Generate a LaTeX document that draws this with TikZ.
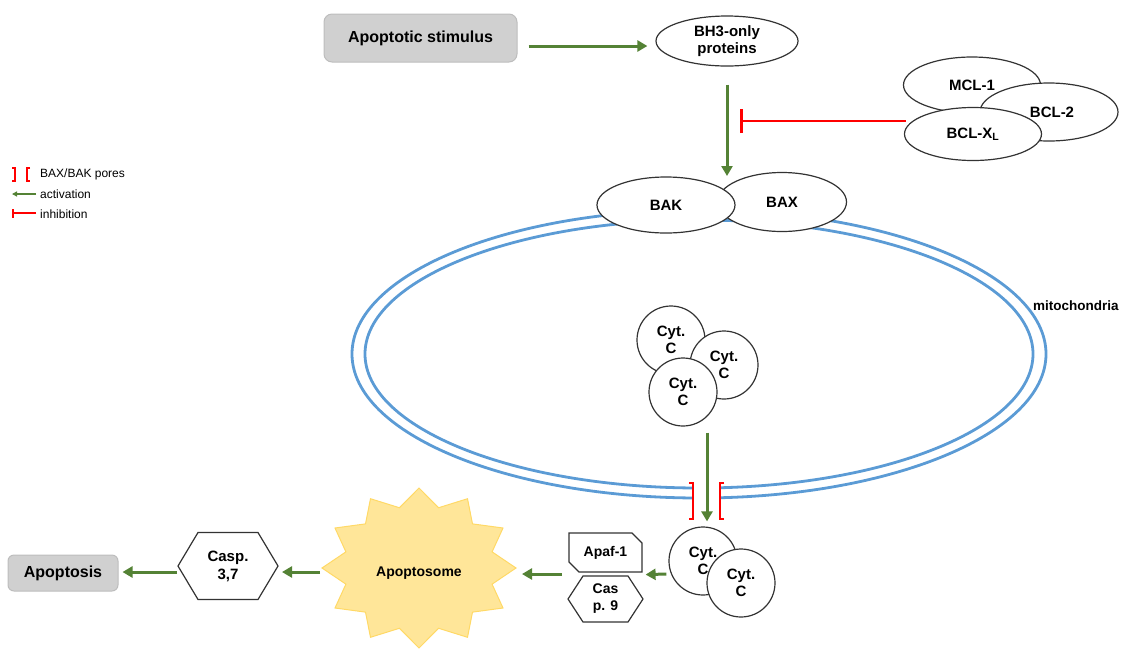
\documentclass[tikz,border=0pt]{standalone}
\usepackage{fontspec}
\setmainfont{Liberation Sans}
\usetikzlibrary{shapes.geometric,shapes.misc,arrows.meta,calc}
\definecolor{actgreen}{HTML}{548235}
\definecolor{mitoblue}{HTML}{5B9BD5}
\definecolor{boxgray}{HTML}{D0D0D0}
\definecolor{boxline}{HTML}{BDBDBD}
\definecolor{starfill}{HTML}{FFE699}
\definecolor{starline}{HTML}{FFD966}
\definecolor{edgec}{HTML}{333333}
\begin{document}
\begin{tikzpicture}[x=1pt,y=-1pt,
  lbl/.style={font=\bfseries\fontsize{15}{17}\selectfont, align=center, text=black, inner sep=0pt},
  gbox/.style={lbl, draw=boxline, fill=boxgray, rounded corners=8pt, line width=1pt, font=\bfseries\fontsize{16}{19}\selectfont},
  oval/.style={lbl, ellipse, draw=edgec, fill=white, line width=1.2pt},
  cyt/.style={lbl, circle, draw=edgec, fill=white, line width=1.2pt, minimum size=68pt},
  act/.style={draw=actgreen, line width=3pt, -{Triangle[length=10pt,width=11pt]}},
  inh/.style={draw=red, line width=2.6pt, -{Bar[width=24pt]}},
  pore/.style={draw=red, line width=2.2pt},
  mito/.style={draw=mitoblue, line width=2.8pt},
  poly/.style={draw=edgec, fill=white, line width=1.2pt},
  lgtext/.style={anchor=west, font=\fontsize{12}{14}\selectfont, inner sep=0pt}]
\useasboundingbox (0,0) rectangle (1128,649);

% legend
\draw[pore, line width=1.5pt] (12,168) -- (15,168) -- (15,181) -- (12,181);
\draw[pore, line width=1.5pt] (30,168) -- (27,168) -- (27,181) -- (30,181);
\node[lgtext] (lgpore) at (40,174) {BAX/BAK pores};
\draw[actgreen, line width=1.5pt, -{Triangle[length=5pt,width=5pt]}] (36,194) -- (12,194);
\node[lgtext] (lgact) at (40,194) {activation};
\draw[red, line width=1.5pt, -{Bar[width=9pt]}] (36,213) -- (12,213);
\node[lgtext] (lginh) at (40,214) {inhibition};

% mitochondria
\draw[mito] (699,354) ellipse [x radius=347, y radius=144];
\draw[mito] (699,354) ellipse [x radius=334, y radius=134];
\fill[white] (694,476) rectangle (719,512);
\draw[pore] (689,483) -- (693,483) -- (693,519) -- (689,519);
\draw[pore] (724,483) -- (720,483) -- (720,519) -- (724,519);
\node[lbl, font=\bfseries\fontsize{13.5}{16}\selectfont, anchor=west] (mitolbl) at (1033,306) {mitochondria};

% top
\node[gbox, minimum width=193, minimum height=48] (stim) at (420.5,38) {Apoptotic stimulus};
\node[oval, minimum width=142, minimum height=50] (bh3) at (727,41) {BH3-only\\proteins};

\node[oval, minimum width=137, minimum height=56] (mcl) at (972,85) {MCL-1};
\node[oval, minimum width=138, minimum height=58] (bcl2) at (1049,112) {\hspace*{6pt}BCL-2};
\node[oval, minimum width=137, minimum height=53] (bclxl) at (973,134) {BCL-X\textsubscript{L}};

\node[oval, minimum width=129, minimum height=59] (bax) at (782,202) {BAX};
\node[oval, minimum width=138, minimum height=56] (bak) at (666,205) {BAK};

\coordinate (bakbax) at (727,176);
\coordinate (inhend) at (740,121);
\draw[act] ($(stim.east)+(11,8)$) -- ($(bh3.west)+(-8,5)$);
\draw[act] ($(bh3.south)+(0,18)$) -- (bakbax);
\draw[inh] ($(bclxl.west)+(2,-13)$) -- (inhend);

% cyt c inside
\node[cyt] (c1) at (671,340) {Cyt.\\C};
\node[cyt] (c2) at (724,365) {Cyt.\\C};
\node[cyt] (c3) at (683,392) {Cyt.\\C};

% cyt c released
\node[cyt] (cA) at (703,561) {Cyt.\\C};
\node[cyt] (cB) at (741,583) {Cyt.\\C};
\draw[act] ($(c3.south)+(24,6)$) -- ($(cA.north)+(4,-5)$);

% Apaf-1 and Casp 9
\node[lbl, chamfered rectangle, chamfered rectangle corners={north east,south west},
  chamfered rectangle xsep=5pt, chamfered rectangle ysep=5pt, draw=edgec, fill=white,
  line width=1.2pt, minimum width=73, minimum height=39, font=\bfseries\fontsize{14}{16}\selectfont] (apaf) at (605.5,552.5) {Apaf-1};
\coordinate (c9) at (605.5,599);
\draw[poly] ($(c9)+(-37.5,0)$) -- ($(c9)+(-22.5,-23)$) -- ($(c9)+(22.5,-23)$) -- ($(c9)+(37.5,0)$) -- ($(c9)+(22.5,23)$) -- ($(c9)+(-22.5,23)$) -- cycle;
\node[lbl, font=\bfseries\fontsize{14}{17}\selectfont] (casp9) at (c9) {Cas\\p. 9};
\draw[act] ($(cA.west)+(-2,13)$) -- ($(apaf.south east)+(3,2)$);

% apoptosome
\coordinate (starc) at (419,568);
\filldraw[fill=starfill, draw=starline, line width=1pt]
  plot[samples at={0,...,23}, variable=\i]
  ({419+97*(1-0.22*mod(\i,2))*cos(90+15*\i)}, {568-80*(1-0.22*mod(\i,2))*sin(90+15*\i)}) -- cycle;
\node[lbl, font=\bfseries\fontsize{14}{16}\selectfont] (apo) at (419,573) {Apoptosome};
\coordinate (apafin) at (562,574);
\draw[act] (apafin) -- ($(starc)+(103,6)$);

% casp 3,7
\coordinate (c37) at (228,566);
\draw[poly] ($(c37)+(-50,0)$) -- ($(c37)+(-30,-33.5)$) -- ($(c37)+(30,-33.5)$) -- ($(c37)+(50,0)$) -- ($(c37)+(30,33.5)$) -- ($(c37)+(-30,33.5)$) -- cycle;
\node[lbl, font=\bfseries\fontsize{15}{18}\selectfont] (casp37) at (c37) {Casp.\\3,7};
\draw[act] ($(starc)+(-99,4)$) -- ($(c37)+(54,6)$);

% apoptosis
\node[gbox, minimum width=110, minimum height=36, rounded corners=6pt] (apop) at (63,573) {Apoptosis};
\draw[act] ($(c37)+(-51,6)$) -- ($(apop.east)+(4,-1)$);
\end{tikzpicture}
\end{document}
